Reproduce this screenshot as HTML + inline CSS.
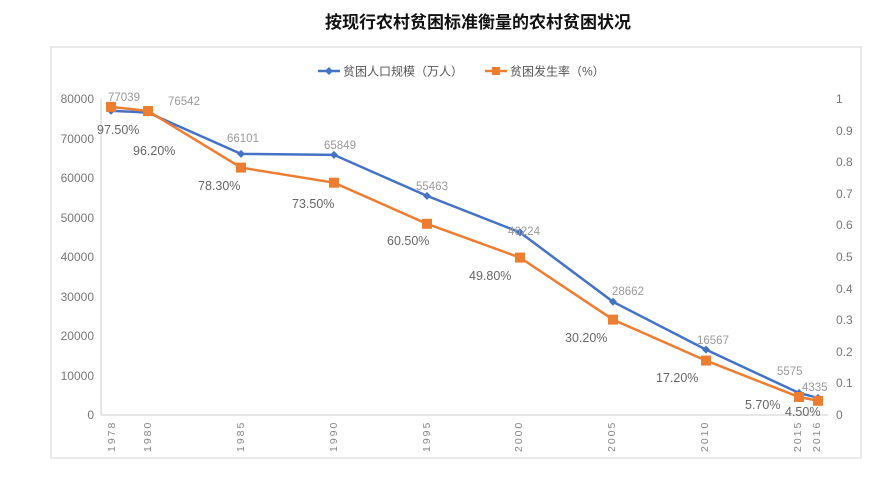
<!DOCTYPE html>
<html><head><meta charset="utf-8"><style>
body{margin:0;background:#fff;width:893px;height:477px;overflow:hidden;font-family:"Liberation Sans","Noto Sans CJK SC",sans-serif}
</style></head><body>
<svg width="893" height="477" xmlns="http://www.w3.org/2000/svg" font-family="Liberation Sans, Noto Sans CJK SC, sans-serif">
<text x="478" y="28" text-anchor="middle" font-size="17" font-weight="bold" fill="#111">按现行农村贫困标准衡量的农村贫困状况</text>
<rect x="51" y="47" width="810" height="411" fill="none" stroke="#ddd" stroke-width="1.2"/>
<!-- legend -->
<line x1="318" y1="71" x2="340" y2="71" stroke="#4472c4" stroke-width="2.5"/>
<path d="M329 67 L333 71 L329 75 L325 71Z" fill="#4472c4"/>
<text x="343" y="75.5" font-size="12" fill="#555">贫困人口规模（万人）</text>
<line x1="485" y1="71" x2="507" y2="71" stroke="#ed7d31" stroke-width="2.5"/>
<rect x="492" y="67" width="8" height="8" fill="#ed7d31"/>
<text x="510" y="75.5" font-size="12" fill="#555">贫困发生率（%）</text>
<!-- axes -->
<line x1="101" y1="99" x2="101" y2="415" stroke="#ccc"/>
<line x1="101" y1="415" x2="828" y2="415" stroke="#ccc"/>
<g font-size="12" fill="#777" text-anchor="end">
<text x="94" y="103">80000</text><text x="94" y="143">70000</text><text x="94" y="182">60000</text><text x="94" y="222">50000</text><text x="94" y="261">40000</text><text x="94" y="301">30000</text><text x="94" y="340">20000</text><text x="94" y="380">10000</text><text x="94" y="419">0</text>
</g>
<g font-size="12" fill="#777">
<text x="836" y="103">1</text><text x="836" y="135">0.9</text><text x="836" y="166">0.8</text><text x="836" y="198">0.7</text><text x="836" y="229">0.6</text><text x="836" y="261">0.5</text><text x="836" y="293">0.4</text><text x="836" y="324">0.3</text><text x="836" y="356">0.2</text><text x="836" y="387">0.1</text><text x="836" y="419">0</text>
</g>
<g font-size="10.5" fill="#888" letter-spacing="2">
<text transform="translate(115,452) rotate(-90)">1978</text>
<text transform="translate(151,452) rotate(-90)">1980</text>
<text transform="translate(244,452) rotate(-90)">1985</text>
<text transform="translate(337,452) rotate(-90)">1990</text>
<text transform="translate(430,452) rotate(-90)">1995</text>
<text transform="translate(522,452) rotate(-90)">2000</text>
<text transform="translate(615,452) rotate(-90)">2005</text>
<text transform="translate(708,452) rotate(-90)">2010</text>
<text transform="translate(801,452) rotate(-90)">2015</text>
<text transform="translate(820,452) rotate(-90)">2016</text>
</g>
<!-- series -->
<polyline fill="none" stroke="#4472c4" stroke-width="2.5" points="111,110.7 148,112.6 241,153.9 334,154.9 427,195.9 520,232.4 613,301.8 706,349.6 799,393.0 818,397.9"/>
<g fill="#4472c4">
<path d="M111 106.7l4 4-4 4-4-4z"/><path d="M148 108.6l4 4-4 4-4-4z"/><path d="M241 149.9l4 4-4 4-4-4z"/><path d="M334 150.9l4 4-4 4-4-4z"/><path d="M427 191.9l4 4-4 4-4-4z"/><path d="M520 228.4l4 4-4 4-4-4z"/><path d="M613 297.8l4 4-4 4-4-4z"/><path d="M706 345.6l4 4-4 4-4-4z"/><path d="M799 389l4 4-4 4-4-4z"/><path d="M818 393.9l4 4-4 4-4-4z"/>
</g>
<polyline fill="none" stroke="#ed7d31" stroke-width="2.5" points="111,106.9 148,111.0 241,167.6 334,182.7 427,223.8 520,257.6 613,319.6 706,360.6 799,397.0 818,400.8"/>
<g fill="#ed7d31">
<rect x="106" y="101.9" width="10" height="10"/><rect x="143" y="106" width="10" height="10"/><rect x="236" y="162.6" width="10" height="10"/><rect x="329" y="177.7" width="10" height="10"/><rect x="422" y="218.8" width="10" height="10"/><rect x="515" y="252.6" width="10" height="10"/><rect x="608" y="314.6" width="10" height="10"/><rect x="701" y="355.6" width="10" height="10"/><rect x="794" y="392" width="10" height="10"/><rect x="813" y="395.8" width="10" height="10"/>
</g>
<g font-size="11.5" fill="#999">
<text x="108" y="101">77039</text><text x="168" y="105">76542</text><text x="227" y="142">66101</text><text x="324" y="149">65849</text><text x="416" y="190">55463</text><text x="508" y="235">46224</text><text x="612" y="295">28662</text><text x="697" y="344">16567</text><text x="777" y="375">5575</text><text x="802" y="391">4335</text>
</g>
<g font-size="12.5" fill="#666">
<text x="97" y="134">97.50%</text><text x="133" y="155">96.20%</text><text x="198" y="190">78.30%</text><text x="292" y="208">73.50%</text><text x="387" y="245">60.50%</text><text x="469" y="280">49.80%</text><text x="565" y="342">30.20%</text><text x="656" y="382">17.20%</text><text x="745" y="409">5.70%</text><text x="785" y="416">4.50%</text>
</g>
</svg>
</body></html>
